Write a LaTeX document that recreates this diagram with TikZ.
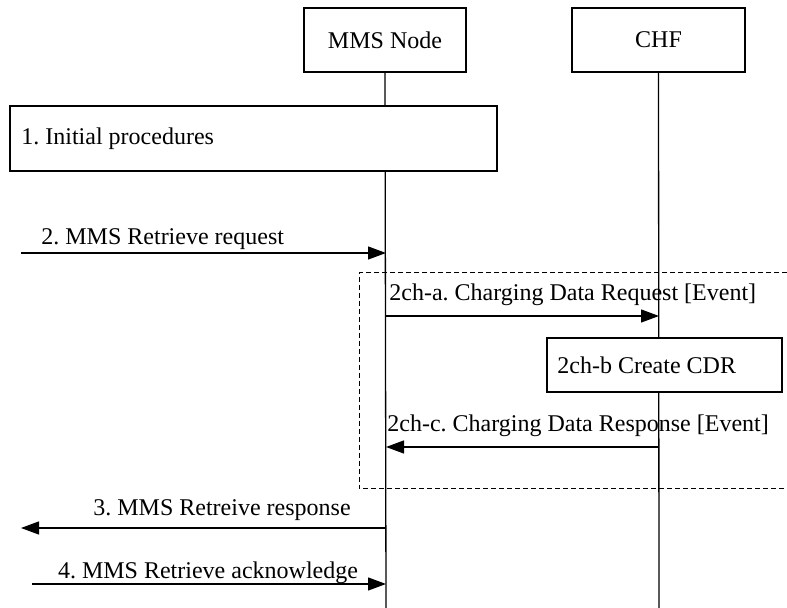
\documentclass[tikz,border=0pt]{standalone}
\usepackage{fontspec}
\setmainfont{Liberation Serif}
\usetikzlibrary{arrows.meta}
\frenchspacing
\begin{document}
\begin{tikzpicture}[x=0.5pt,y=-0.5pt,
  every node/.style={font=\fontsize{12}{14}\selectfont, inner sep=0pt},
  ln/.style={line width=0.65pt},
  boxed/.style={draw, line width=0.65pt, fill=white},
  msg/.style={line width=0.65pt, -{Triangle[length=9pt,width=6.5pt]}},
  lbl/.style={anchor=base west}]
\useasboundingbox (0,0) rectangle (787,608);
% entity boxes
\node[boxed, minimum width=81pt, minimum height=32pt] (mms) at (385,40) {MMS Node};
\node[boxed, minimum width=86.5pt, minimum height=32pt] (chf) at (658.5,40) {CHF};
\coordinate (mmsEnd) at (386,608);
\coordinate (chfEnd) at (659,608);
\draw[ln] (mms.south) -- (mmsEnd);
\draw[ln] (chf.south) -- (chfEnd);
% dashed frame
\draw[line width=0.5pt, dash pattern=on 2.5pt off 1.5pt] (787,273) -- (359,273) -- (359,489) -- (787,489);
% initial procedures
\node[boxed, minimum width=243.5pt, minimum height=32.5pt] (init) at (253.5,138.5) {};
\node[anchor=west] (initt) at (21,139) {1. Initial procedures};
% create CDR
\node[boxed, minimum width=117.5pt, minimum height=27pt] (cdr) at (664.5,365) {};
\node[anchor=west] (cdrt) at (557,365) {2ch-b Create CDR};
% coordinates for messages
\coordinate (m2s) at (21,253);   \coordinate (m2e) at (386,253);
\coordinate (mas) at (386,316);  \coordinate (mae) at (659,316);
\coordinate (mcs) at (659,447);  \coordinate (mce) at (386,447);
\coordinate (m3s) at (386,528);  \coordinate (m3e) at (21,528);
\coordinate (m4s) at (32,584);   \coordinate (m4e) at (386,584);
\draw[msg] (m2s) -- (m2e);
\draw[msg] (mas) -- (mae);
\draw[msg] (mcs) -- (mce);
\draw[msg] (m3s) -- (m3e);
\draw[msg] (m4s) -- (m4e);
% labels
\node[anchor=west] (l2) at (41,239) {2. MMS Retrieve request};
\node[anchor=west] (la) at (389,295) {2ch-a. Charging Data Request [Event]};
\node[anchor=west] (lc) at (387,426) {2ch-c. Charging Data Response [Event]};
\node (l3) at (222,510) {3. MMS Retreive response};
\node (l4) at (208,573) {4. MMS Retrieve acknowledge};
\end{tikzpicture}
\end{document}
